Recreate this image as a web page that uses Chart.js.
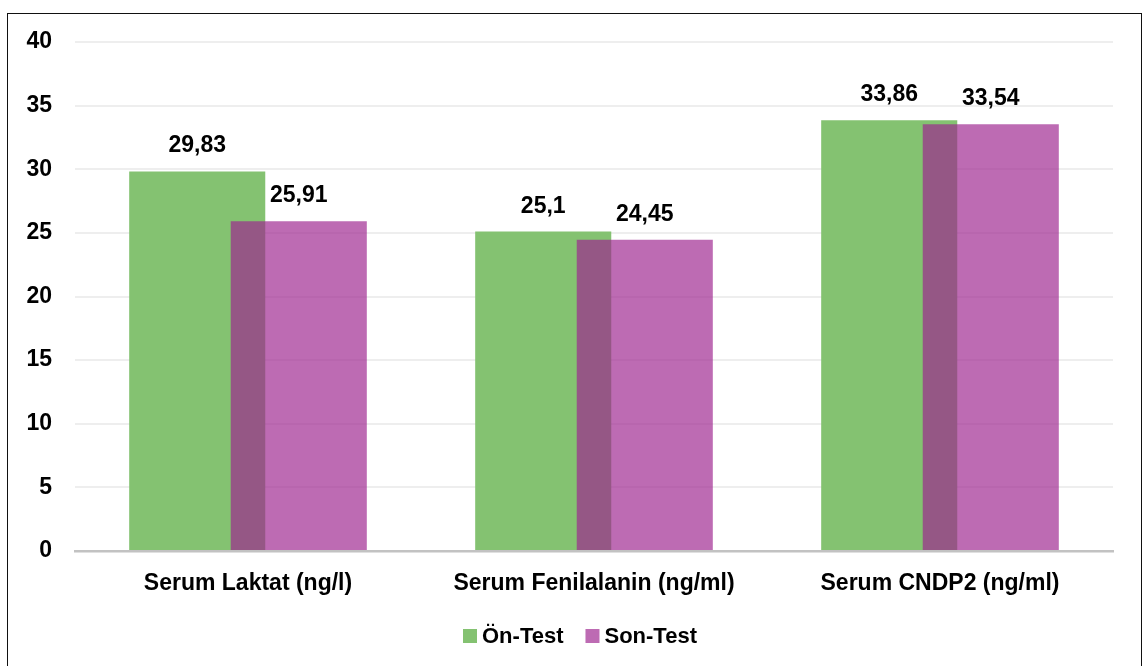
<!DOCTYPE html>
<html>
<head>
<meta charset="utf-8">
<script src="https://cdn.jsdelivr.net/npm/chart.js@4/dist/chart.umd.min.js"></script>
<style>
  html, body { margin: 0; padding: 0; background: #fff; }
  #wrap { position: relative; width: 1143px; height: 666px; overflow: hidden; }
  #c { position: absolute; left: 0; top: 0; }
  #frame { position: absolute; left: 7px; top: 13px; width: 1133px; height: 700px;
           border: 1.6px solid #111; pointer-events: none; }
</style>
</head>
<body>
<div id="wrap">
  <canvas id="c" width="1143" height="666"></canvas>
  <div id="frame"></div>
</div>
<script>
// Categories and series
const categories = ['Serum Laktat (ng/l)', 'Serum Fenilalanin (ng/ml)', 'Serum CNDP2 (ng/ml)'];
const seriesNames = ['Ön-Test', 'Son-Test'];
const onTest = [29.83, 25.1, 33.86];
const sonTest = [25.91, 24.45, 33.54];
const yTicks = [0, 5, 10, 15, 20, 25, 30, 35, 40];

const GREEN = 'rgb(132,194,113)';
const PURPLE = 'rgba(157,36,142,0.675)';
const PURPLE_KEY = 'rgb(189,107,179)';
const FONT = '"Liberation Sans", Arial, sans-serif';

const fmt = v => String(v).replace('.', ',');

// Paint the second series after the first so its translucent bars sit on top
const topSeries = {
  id: 'topSeries',
  beforeDatasetDraw(chart, args) {
    if (args.index === 1) return false;
  },
  afterDatasetsDraw(chart) {
    const area = chart.chartArea;
    const ctx = chart.ctx;
    ctx.save();
    ctx.beginPath();
    ctx.rect(area.left, area.top - 2, area.right - area.left, area.bottom - area.top + 2);
    ctx.clip();
    chart.getDatasetMeta(1).controller.draw();
    ctx.restore();
  }
};

// Value labels above each bar
const valueLabels = {
  id: 'valueLabels',
  afterDatasetsDraw(chart) {
    const ctx = chart.ctx;
    ctx.save();
    ctx.font = 'bold 23px ' + FONT;
    ctx.fillStyle = '#000';
    ctx.textAlign = 'center';
    ctx.textBaseline = 'alphabetic';
    chart.data.datasets.forEach((ds, i) => {
      const meta = chart.getDatasetMeta(i);
      meta.data.forEach((el, j) => {
        ctx.fillText(fmt(ds.data[j]), el.x, el.y - 19);
      });
    });
    ctx.restore();
  }
};

// Legend row under the category labels
const keyRow = {
  id: 'keyRow',
  afterDraw(chart) {
    const ctx = chart.ctx;
    ctx.save();
    ctx.font = 'bold 22px ' + FONT;
    ctx.textBaseline = 'middle';
    ctx.textAlign = 'left';
    const box = 14, gapText = 5, gapItem = 22, cy = 636;
    const colors = [GREEN, PURPLE_KEY];
    const widths = seriesNames.map(n => box + gapText + ctx.measureText(n).width);
    let x = 463;
    seriesNames.forEach((n, i) => {
      ctx.fillStyle = colors[i];
      ctx.fillRect(x, cy - box / 2, box, box);
      ctx.fillStyle = '#000';
      ctx.fillText(n, x + box + gapText, cy + 1);
      x += widths[i] + gapItem;
    });
    ctx.restore();
  }
};

new Chart(document.getElementById('c'), {
  type: 'bar',
  data: {
    labels: categories,
    datasets: [
      { label: seriesNames[0], data: onTest, backgroundColor: GREEN },
      { label: seriesNames[1], data: sonTest, backgroundColor: PURPLE }
    ]
  },
  options: {
    responsive: false,
    animation: false,
    categoryPercentage: 0.587,
    barPercentage: 1.34,
    layout: { padding: { top: 42, right: 30, bottom: 0, left: 0 } },
    plugins: { legend: { display: false }, tooltip: { enabled: false } },
    scales: {
      x: {
        grid: { display: false },
        border: { display: true, color: '#c2c2c2', width: 2.5 },
        ticks: { color: '#000', font: { family: FONT, size: 23, weight: 'bold' }, padding: 11 },
        afterFit(scale) { scale.height = 115; }
      },
      y: {
        min: 0, max: 40,
        afterBuildTicks(scale) { scale.ticks = yTicks.map(v => ({ value: v })); },
        grid: { color: '#eeeeee', lineWidth: 2, drawTicks: false },
        border: { display: false },
        ticks: { color: '#000', font: { family: FONT, size: 23, weight: 'bold' }, padding: 23 },
        afterFit(scale) { scale.width = 75; }
      }
    }
  },
  plugins: [topSeries, valueLabels, keyRow]
});
</script>
</body>
</html>
